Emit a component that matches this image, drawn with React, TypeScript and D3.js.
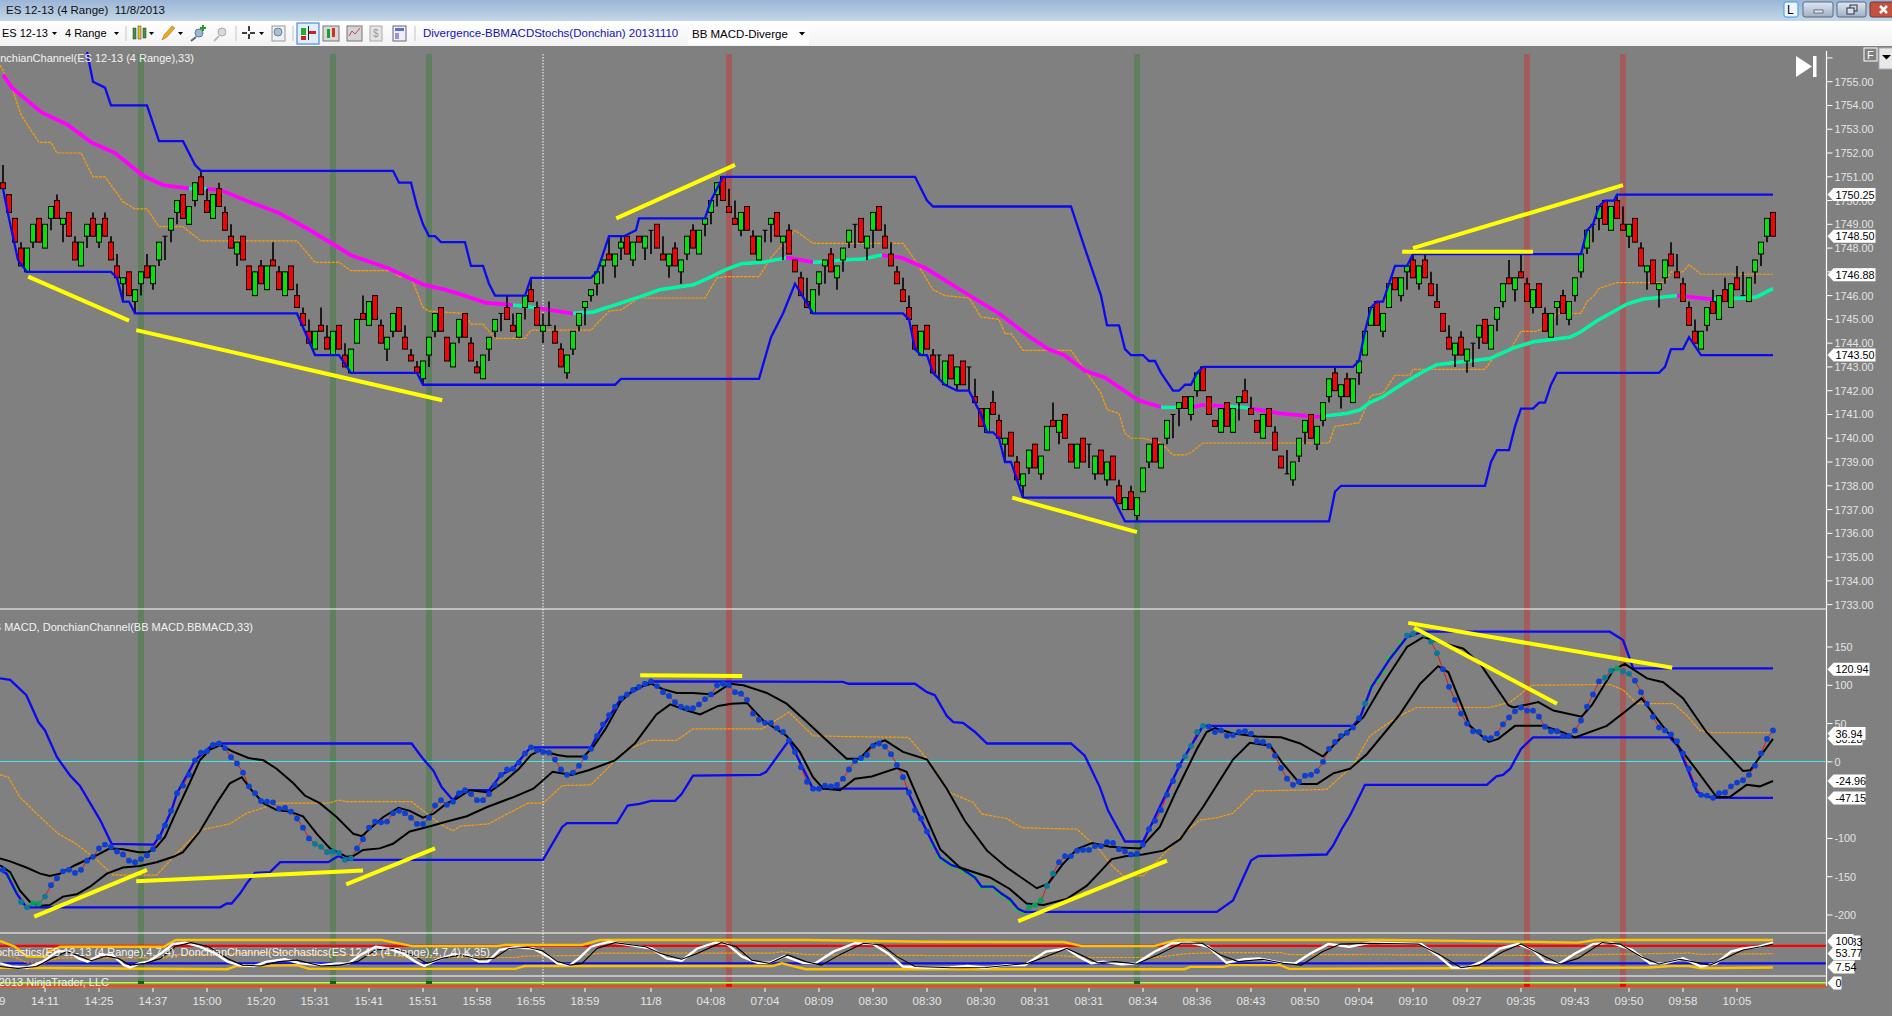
import React from 'react';
import * as d3 from 'd3';

type Pt = [number, number];

// candles: open, high, low, close (ES 12-13, 4 range)
const candles: number[][] = [
  [1750.75,1751.5,1750.5,1750.5],[1750.25,1750.25,1749.5,1749.5],[1749.25,1749.25,1748.25,1748.25],[1748,1748.25,1747.25,1747.25],
  [1747,1748,1747,1748],[1748.25,1749,1748,1749],[1749.25,1749.25,1748.25,1748.25],[1748,1749,1748,1749],
  [1749.25,1749.75,1748.75,1749.75],[1750,1750.25,1749.25,1749.25],[1749,1749.25,1748.25,1749.25],[1749.5,1749.5,1748.5,1748.5],
  [1748.25,1748.5,1747.5,1747.5],[1747.25,1748.25,1747.25,1748.25],[1748.5,1749,1748,1749],[1749.25,1749.5,1748.5,1748.5],
  [1748.25,1749,1748,1749],[1749.25,1749.5,1748.5,1748.5],[1748.25,1748.5,1747.5,1747.5],[1747.25,1747.75,1746.75,1746.75],
  [1746.5,1746.75,1745.75,1746.75],[1747,1747,1746,1746],[1745.75,1746.25,1745.25,1746.25],[1746.5,1747,1746,1747],
  [1747.25,1747.75,1746.75,1746.75],[1746.5,1747.25,1746.25,1747.25],[1747.5,1748.25,1747.25,1748.25],[1748.5,1748.5,1747.5,1748.5],
  [1748.75,1749.25,1748.25,1749.25],[1749.5,1750,1749,1750],[1750.25,1750.25,1749.25,1749.25],[1749,1749.75,1749,1749.75],
  [1750,1750.75,1749.75,1750.75],[1751,1751.25,1750.25,1750.25],[1750,1750.5,1749.5,1749.5],[1749.25,1750.25,1749.25,1750.25],
  [1750.5,1750.75,1749.75,1749.75],[1749.5,1749.75,1748.75,1748.75],[1748.5,1749,1748,1748],[1747.75,1748.25,1747.25,1748.25],
  [1748.5,1748.5,1747.5,1747.5],[1747.25,1747.25,1746.25,1746.25],[1746,1747,1746,1747],[1747.25,1747.5,1746.5,1746.5],
  [1746.25,1747.25,1746.25,1747.25],[1747.5,1748.25,1747.25,1747.25],[1747,1747.25,1746.25,1746.25],[1746,1747,1746,1747],
  [1747.25,1747.25,1746.25,1746.25],[1746,1746.5,1745.5,1745.5],[1745.25,1745.5,1744.75,1744.75],[1744.5,1745,1744,1744],
  [1743.75,1744.5,1743.75,1744.5],[1744.75,1745.5,1744.5,1744.5],[1744.25,1744.75,1743.75,1743.75],[1743.5,1744.5,1743.5,1744.5],
  [1744.75,1744.75,1743.75,1743.75],[1743.5,1744,1743,1743],[1742.75,1743.75,1742.75,1743.75],[1744,1745,1744,1745],
  [1745.25,1746,1745,1745],[1744.75,1745.75,1744.75,1745.75],[1746,1746,1745,1745],[1744.75,1745,1744,1744],
  [1743.75,1744.25,1743.25,1744.25],[1744.5,1745.25,1744.25,1745.25],[1745.5,1745.5,1744.5,1744.5],[1744.25,1744.75,1743.75,1743.75],
  [1743.5,1743.75,1743.25,1743.25],[1743,1743.25,1742.75,1742.75],[1742.5,1743.25,1742.25,1743.25],[1743.5,1744.25,1743,1744.25],
  [1744.5,1745.25,1744.25,1745.25],[1745.5,1745.5,1744.5,1744.5],[1744.25,1744.25,1743.25,1743.25],[1743,1744,1743,1744],
  [1744.25,1745,1744,1745],[1745.25,1745.25,1744.25,1744.25],[1744,1744.25,1743.25,1743.25],[1743,1743.25,1742.75,1742.75],
  [1742.5,1743.5,1742.5,1743.5],[1743.75,1744.25,1743.25,1744.25],[1744.5,1745,1744.25,1745],[1745.25,1745.25,1744.5,1745.25],
  [1745.5,1746,1745,1745],[1744.75,1745.25,1744.5,1744.5],[1744.25,1745.25,1744.25,1745.25],[1745.5,1746,1745,1746],
  [1746.25,1746.75,1745.75,1745.75],[1745.5,1745.75,1744.75,1744.75],[1744.5,1745.25,1744,1744.75],[1744.75,1745.75,1744.75,1744.75],
  [1744.5,1744.75,1744,1744],[1743.75,1744,1743,1743],[1742.75,1743.5,1742.5,1743.5],[1743.75,1744.5,1743.5,1744.5],
  [1744.75,1745.25,1744.5,1745.25],[1745.5,1745.75,1744.75,1745.75],[1746,1746.25,1745.75,1746.25],[1746.5,1747,1746,1747],
  [1747.25,1747.5,1746.5,1747.5],[1747.75,1748.5,1747.5,1747.5],[1747.25,1747.75,1746.75,1747.75],[1748,1748.5,1747.5,1748.25],
  [1748.5,1748.5,1747.75,1747.75],[1747.5,1748.25,1747.25,1748.25],[1748.5,1748.5,1748.25,1748.25],[1748,1748.5,1747.5,1748.5],
  [1748.75,1748.75,1747.75,1748.75],[1749,1749,1748,1748],[1747.75,1748.5,1747.5,1747.5],[1747.25,1747.75,1746.75,1747.75],
  [1748,1748.25,1747.25,1747.25],[1747,1747.5,1746.5,1747.5],[1747.75,1748.5,1747.5,1748.5],[1748.75,1749,1748,1748],
  [1747.75,1748.75,1747.75,1748.75],[1749,1749.25,1748.5,1749.25],[1749.5,1750,1749,1750],[1750.25,1750.75,1749.75,1750.75],
  [1751,1751,1750,1750],[1749.75,1750.5,1749.5,1749.5],[1749.25,1750,1749,1749],[1748.75,1749.5,1748.5,1749.5],
  [1749.75,1749.75,1748.75,1748.75],[1748.5,1748.75,1747.75,1747.75],[1747.5,1748.5,1747.5,1748.5],[1748.75,1748.75,1748.25,1748.75],
  [1749,1749.25,1748.25,1749.25],[1749.5,1749.5,1748.5,1748.5],[1748.25,1748.5,1747.5,1748.5],[1748.75,1749,1747.75,1747.75],
  [1747.5,1747.5,1747,1747],[1746.75,1747,1746,1746],[1745.75,1746.75,1745.5,1745.5],[1745.25,1746.25,1745.25,1746.25],
  [1746.5,1747,1746,1747],[1747.25,1747.5,1746.5,1747.5],[1747.75,1748,1747,1747],[1746.75,1747.25,1746.25,1747.25],
  [1747.5,1748,1747,1748],[1748.25,1748.75,1748,1748.75],[1749,1749,1748,1749],[1749.25,1749.25,1748.25,1748.25],
  [1748,1748.5,1747.5,1748.5],[1748.75,1749.5,1748,1749.5],[1749.75,1749.75,1748.75,1748.75],[1748.5,1749,1748,1748],
  [1747.75,1748.25,1747.25,1747.25],[1747,1747.25,1746.5,1746.5],[1746.25,1746.75,1745.75,1745.75],[1745.5,1746,1745,1745],
  [1744.75,1744.75,1743.75,1743.75],[1743.5,1744.5,1743.5,1744.5],[1744.75,1744.75,1743.75,1743.75],[1743.5,1743.75,1742.75,1742.75],
  [1743.5,1743.5,1742.5,1743.5],[1742.25,1743.25,1742.25,1743.25],[1743.5,1743.5,1742.5,1742.5],[1742.25,1743,1742,1743],
  [1743.25,1743.25,1742.25,1742.25],[1743,1743,1742,1743],[1741.75,1742.5,1741.5,1741.5],[1741.25,1741.25,1740.5,1740.5],
  [1740.25,1741.25,1740.25,1741.25],[1741.5,1742,1741,1741],[1740.75,1741,1740,1740],[1739.75,1740,1739,1740],
  [1740.25,1740.25,1739.25,1739.25],[1739,1739.25,1738.25,1738.25],[1738,1738.5,1737.5,1738.5],[1738.75,1739.5,1738.5,1739.5],
  [1739.75,1739.75,1738.75,1738.75],[1738.5,1739.25,1738.25,1739.25],[1739.5,1740.5,1739.5,1740.5],[1740.75,1741.5,1740.5,1740.5],
  [1740.25,1740.75,1739.75,1740.75],[1741,1741,1740,1740],[1739.75,1739.75,1739,1739],[1738.75,1739.75,1738.75,1739.75],
  [1740,1740,1739,1739],[1739.75,1739.75,1738.75,1739.75],[1738.5,1739.25,1738.25,1739.25],[1739.5,1739.5,1738.5,1738.5],
  [1738.25,1739,1738,1739],[1739.25,1739.25,1738.25,1738.25],[1738,1738.25,1737.25,1737.25],[1737,1737.5,1737,1737.5],
  [1737.75,1738,1737,1737],[1736.75,1737.5,1736.5,1737.5],[1737.75,1738.75,1737.75,1738.75],[1739,1739.75,1738.75,1739.75],
  [1740,1740,1739,1739],[1738.75,1739.75,1738.75,1739.75],[1740,1740.75,1739.75,1740.75],[1741,1741,1740,1741],
  [1741.25,1741.5,1740.5,1741.5],[1741.75,1741.75,1741.25,1741.25],[1741,1741.75,1740.75,1741.75],[1742,1742.75,1741.75,1742.75],
  [1743,1743,1742,1742],[1741.75,1741.75,1741,1741],[1740.75,1740.75,1740.5,1740.5],[1740.25,1741.25,1740.25,1741.25],
  [1741.5,1741.5,1740.5,1740.5],[1740.25,1741.25,1740.25,1741.25],[1741.5,1741.75,1740.75,1741.75],[1742,1742.5,1741.5,1741.5],
  [1741.25,1741.75,1741,1741],[1740.75,1740.75,1740.25,1740.25],[1740,1741,1740,1741],[1741.25,1741.25,1740.5,1740.5],
  [1740.25,1740.5,1739.5,1739.5],[1739.25,1739.25,1738.75,1738.75],[1738.5,1739.5,1738.5,1738.5],[1738.25,1739,1738,1739],
  [1739.25,1740,1739,1740],[1740.25,1740.75,1739.75,1740.75],[1741,1741,1740,1740],[1739.75,1740.5,1739.5,1740.5],
  [1740.75,1741.5,1740.5,1741.5],[1741.75,1742.5,1741.5,1742.5],[1742.75,1743,1742,1742],[1741.75,1742.25,1741.25,1742.25],
  [1742.5,1742.75,1741.75,1741.75],[1741.5,1742.5,1741.5,1742.5],[1742.75,1743.25,1742.25,1743.25],[1743.5,1744.5,1743.5,1744.5],
  [1744.75,1745.5,1744.75,1745.5],[1745.75,1745.75,1744.75,1744.75],[1744.5,1745.25,1744.25,1745.25],[1745.5,1746.5,1745.5,1746.5],
  [1746.75,1746.75,1746.25,1746.25],[1746,1746.75,1745.75,1746.75],[1747,1747.25,1746.25,1747.25],[1747.5,1747.75,1746.75,1746.75],
  [1746.5,1747.25,1746.25,1747.25],[1747.5,1747.75,1746.75,1746.75],[1746.5,1747,1746,1746],[1745.75,1746.5,1745.5,1745.5],
  [1745.25,1745.25,1744.5,1744.5],[1744.25,1744.75,1743.75,1743.75],[1743.5,1744,1743,1744],[1744.25,1744.5,1743.5,1743.5],
  [1743.25,1743.75,1742.75,1743.75],[1744,1744,1743,1744],[1744.25,1744.75,1743.75,1744.75],[1745,1745,1744,1744],
  [1743.75,1744.75,1743.75,1744.75],[1745,1745.5,1744.5,1745.5],[1745.75,1746.5,1745.5,1746.5],[1746.75,1747.5,1746.5,1746.5],
  [1746.25,1746.75,1745.75,1746.75],[1747,1747.75,1746.75,1746.75],[1746.5,1746.75,1745.75,1745.75],[1745.5,1746.25,1745.25,1746.25],
  [1746.5,1746.5,1745.5,1745.5],[1745.25,1745.5,1744.5,1744.5],[1744.25,1745.25,1744.25,1745.25],[1745.5,1745.75,1744.75,1745.75],
  [1746,1746.25,1745.25,1745.25],[1745,1745.75,1744.75,1745.75],[1746,1746.75,1745.75,1746.75],[1747,1747.75,1746.75,1747.75],
  [1748,1748.75,1747.75,1748.75],[1749,1749,1748.25,1749],[1749.25,1749.75,1748.75,1749.75],[1750,1750,1749,1749],
  [1748.75,1749.75,1748.75,1749.75],[1750,1750.25,1749.25,1749.25],[1749,1749.75,1748.75,1748.75],[1748.5,1749,1748,1749],
  [1749.25,1749.25,1748.25,1748.25],[1748,1748.25,1747.25,1747.25],[1747,1747.25,1746.25,1747.25],[1747.5,1747.5,1746.5,1746.5],
  [1746.25,1746.5,1745.5,1746.5],[1746.75,1747.5,1746.5,1747.5],[1747.75,1748.25,1747.25,1747.25],[1747,1747.75,1746.75,1746.75],
  [1746.5,1746.75,1745.75,1745.75],[1745.5,1745.75,1744.75,1744.75],[1744.5,1745,1744,1744],[1743.75,1744.5,1743.75,1744.5],
  [1744.75,1745.5,1744.5,1745.5],[1745.75,1746.25,1745.25,1745.25],[1745,1746,1745,1746],[1746.25,1746.75,1745.75,1745.75],
  [1745.5,1746.5,1745.5,1746.5],[1746.75,1747.25,1746.25,1746.25],[1746,1747,1746,1746],[1745.75,1746.75,1745.75,1746.75],
  [1747,1747.5,1746.5,1747.5],[1747.75,1748.25,1747.25,1748.25],[1748.5,1749.25,1748.25,1749.25],[1749.5,1749.5,1748.5,1748.5],
];

const priceChannelUpper: Pt[] = [[14,1756.25],[15,1755],[17,1754.75],[18,1754],[24,1754],[26,1752.5],[30,1752.5],[32,1751.5],[33,1751.25],[65,1751.25],[66,1750.75],[68,1750.75],[69,1749.75],[70,1749],[71,1748.5],[72,1748.5],[73,1748.25],[77,1748.25],[78,1747.25],[80,1747.25],[81,1746.5],[82,1746],[87,1746],[88,1746.75],[98,1746.75],[99,1747],[101,1748.5],[103.5,1748.5],[105.5,1748.75],[106,1749.25],[117,1749.25],[118,1750],[120,1751],[152,1751],[154,1750],[155,1749.75],[178,1749.75],[180.3,1748],[183,1746],[184,1744.75],[186,1744.75],[187,1743.75],[188,1743.5],[190,1743.5],[191,1743.25],[192,1743.25],[193,1742.75],[195,1742],[196,1742],[197,1742.25],[198,1742.25],[199,1742.75],[200,1743],[225,1743],[226,1743.25],[227,1744.5],[228,1745.5],[229,1745.75],[230,1745.75],[232,1747.25],[234,1747.25],[235,1747.75],[263,1747.75],[264,1748.75],[265,1749],[266,1749.75],[267,1750],[268.5,1750],[269,1750.25],[295,1750.25]];
const priceChannelLower: Pt[] = [[0,1750.5],[1,1749.25],[2.5,1747.5],[4,1747],[18,1747],[19,1746.75],[20,1745.75],[21,1745.75],[22,1745.25],[49,1745.25],[52,1743.5],[56,1743.5],[58,1742.75],[69,1742.75],[70,1742.25],[102,1742.25],[103,1742.5],[126,1742.5],[128,1744.25],[130,1745.25],[132,1746.5],[135,1745.25],[150,1745.25],[151,1745],[152,1743.75],[153,1743.5],[154,1743.5],[155,1742.75],[157,1742.25],[159,1742],[161,1742],[163,1741],[164,1740.25],[165,1740.25],[166,1740],[167,1739],[168,1739],[170,1737.5],[185,1737.5],[187,1736.5],[221,1736.5],[222,1737.75],[223,1738],[247,1738],[248,1739],[249,1739.5],[251,1739.5],[252,1740.5],[253,1741.25],[255,1741.25],[256,1741.5],[257,1741.5],[258,1742.25],[259,1742.75],[276,1742.75],[277,1743],[278,1743.75],[280,1743.75],[281,1744.25],[283,1743.5],[295,1743.5]];
const priceChannelMid: Pt[] = [[-0.5,1755.7],[1.5,1754.75],[3,1753.6],[6,1752.45],[8,1752.45],[9,1752],[13,1752],[15,1751],[17,1751],[20,1749.95],[22,1749.65],[24,1749.65],[26,1748.9],[30,1748.9],[33,1748.3],[49,1748.3],[52,1747.4],[56,1747.4],[58,1747.05],[65,1747.05],[66,1746.8],[68,1746.8],[70,1745.5],[71,1745.35],[77,1745.25],[78,1744.8],[80,1744.8],[82,1744.2],[87,1744.2],[88,1744.55],[98,1744.55],[101,1745.35],[103,1745.4],[106,1745.9],[117,1745.9],[119,1746.75],[120.5,1746.8],[126,1746.8],[128,1747.6],[132,1748.75],[135,1748.2],[150,1748.2],[152,1747.5],[155,1746.25],[157,1746],[161,1745.9],[163,1745.1],[166,1745],[167,1744.4],[168,1744.4],[170,1743.7],[178,1743.7],[183,1741.9],[184,1741.2],[186,1741.05],[187,1740.2],[188,1740],[190,1740],[193,1739.8],[195,1739.3],[197,1739.3],[198,1739.4],[200,1739.8],[221,1739.8],[222,1740.5],[226,1740.65],[228,1741.8],[230,1741.9],[232,1742.65],[234.5,1742.65],[235,1742.9],[247,1742.9],[249,1743.6],[251,1743.65],[253,1744.5],[255.5,1744.5],[257.5,1744.7],[259,1745.25],[263,1745.25],[264,1745.75],[265,1745.95],[266,1746.3],[269,1746.55],[277,1746.55],[278,1747],[280,1747],[281,1747.3],[283,1746.9],[295,1746.9]];

const emaLine: Pt[] = [[0,1755.3],[1.5,1754.75],[6.5,1753.7],[10.7,1753.2],[14.7,1752.45],[18.7,1752],[23.3,1751.05],[26.7,1750.65],[31.2,1750.5],[33.5,1750.5],[36.2,1750.45],[41,1749.95],[45.8,1749.5],[51.2,1748.75],[58,1747.7],[64.2,1747.15],[70.2,1746.45],[73.7,1746.25],[76.3,1746.05],[80.5,1745.7],[85.2,1745.6],[88.7,1745.5],[94.7,1745.25],[98.2,1745.3],[106.2,1745.95],[109.5,1746.25],[115,1746.45],[117.7,1746.75],[120.5,1747.1],[123.2,1747.35],[126.5,1747.4],[130.7,1747.6],[135.3,1747.4],[140.2,1747.5],[143.5,1747.55],[146.3,1747.7],[149.7,1747.6],[153.8,1747.15],[159.2,1746.3],[166,1745.25],[171.5,1744.2],[174.2,1743.75],[176.8,1743.5],[180.3,1742.85],[183.7,1742.55],[189.2,1741.6],[193.2,1741.3],[198,1741.3],[200,1741.4],[206.8,1741.3],[212.8,1741.05],[219,1740.9],[224,1741.05],[226.2,1741.2],[227.8,1741.5],[230,1741.75],[233.3,1742.3],[236.7,1742.8],[239,1743.1],[247.8,1743.35],[251.7,1743.8],[255,1744.05],[261.2,1744.25],[262.8,1744.45],[265.7,1744.95],[270.7,1745.65],[273.3,1745.85],[279,1746],[281.2,1745.95],[284.5,1745.85],[290,1745.9],[292.3,1745.95],[295,1746.3]];
const emaRisingSpans: Pt[] = [[31,34],[85,89],[95,130.5],[135,146.5],[193,198],[204,207.7],[220,279],[285,295.5]];

const macdDots: number[] = [
  -141,-151,-167,-183,-190,-185,-185,-176,-161,-152,-143,-141,-145,-141,-129,-124,-113,-108,-111,-117,
  -121,-129,-131,-127,-122,-114,-98,-83,-64,-41,-31,-17,2,12,14,22,24,18,6,-2,
  -14,-32,-41,-51,-52,-53,-61,-60,-65,-74,-86,-100,-107,-111,-118,-117,-119,-128,-126,-113,
  -101,-86,-78,-79,-78,-67,-64,-67,-73,-81,-81,-73,-57,-50,-56,-52,-41,-37,-42,-50,
  -50,-42,-30,-17,-10,-9,-1,11,19,15,13,12,3,-10,-17,-14,-5,6,17,34,
  49,61,72,83,88,94,98,102,105,99,91,86,78,72,70,70,75,82,88,100,
  102,100,91,89,81,63,55,51,51,44,39,28,13,-7,-26,-35,-35,-31,-32,-30,
  -22,-10,1,5,9,21,24,20,10,-4,-20,-40,-63,-74,-91,-108,-124,-129,-135,-137,
  -142,-146,-151,-163,-163,-163,-171,-176,-183,-192,-196,-190,-187,-181,-162,-146,-131,-123,-123,-116,
  -115,-115,-110,-110,-105,-106,-114,-117,-121,-120,-108,-88,-77,-63,-43,-25,-5,7,21,39,
  47,46,39,41,34,35,39,40,37,27,26,21,8,-8,-22,-30,-26,-18,-17,-12,
  0,17,26,34,38,45,57,76,97,107,118,135,144,155,165,167,170,166,157,142,
  121,98,81,63,50,40,39,31,31,37,49,58,66,71,67,67,59,46,40,40,
  34,34,41,54,72,88,105,110,119,122,118,115,106,91,76,59,45,41,36,27,
  11,-9,-30,-43,-44,-47,-41,-40,-32,-27,-24,-17,-5,11,30,41,
];
const dotGreenBars = [5, 6, 171, 172, 173, 269];
const dotTealBars = [3, 4, 7, 52, 53, 54, 55, 56, 57, 58, 174, 175, 197, 198, 199, 200, 227, 234, 235, 237, 238, 239, 267, 268, 270, 271];
const dotHiddenBars = [1, 2, 155, 156, 157, 158, 159, 160, 161, 162, 163, 164, 165, 166, 167, 168, 169, 170, 228, 229, 230, 231, 232, 233, 236];

const macdBandUpper: Pt[] = [[-0.5,-126],[1.2,-130],[3.9,-138],[6.2,-146],[7.8,-149],[9.5,-146],[12,-135],[15.6,-122],[17.8,-113],[20,-114],[22.6,-118],[24.2,-118],[25.6,-111],[27,-98],[29,-63],[31.2,-26],[32.8,2],[34.5,16],[36.2,22],[38.4,13],[40.9,5],[43.4,2],[45.6,-9],[48.4,-28],[50.3,-44],[52.8,-54],[55.6,-72],[58.4,-94],[59.8,-97],[61.2,-87],[63.4,-72],[65.9,-60],[67.8,-64],[70,-73],[71.7,-68],[74,-54],[75.6,-48],[77.8,-37],[79,-38],[81,-40],[83.5,-26],[86,-9],[88,9],[89.5,15],[92.4,9],[94,7],[96.8,7],[98.4,20],[100.5,44],[102.9,78],[105.3,96],[108.1,102],[110,95],[112.3,90],[115,90],[118.4,88],[121.2,102],[123.4,100],[127.3,90],[130.6,76],[134,52],[137.3,28],[140.6,4],[142.8,4],[145,23],[147,28],[150,13],[154,3],[157.3,-35],[160.3,-77],[164,-116],[167.3,-138],[172.3,-165],[174.2,-159],[176.7,-133],[179,-114],[181.5,-106],[184.5,-111],[186.2,-112],[189.5,-113],[192.8,-85],[195.6,-37],[199,17],[200.6,39],[202,44],[205,37],[209,33],[213,32],[216.2,24],[220,7],[222.8,30],[226.7,58],[230,102],[234,150],[236.7,163],[240.6,154],[243.4,148],[246.2,128],[250.9,74],[251.7,71],[255.9,78],[258.4,67],[263.1,59],[264.8,74],[268.4,120],[270.3,128],[274,109],[276.7,104],[280,83],[283.9,39],[290,-12],[291.2,-11],[295,30]];
const macdBandLower: Pt[] = [[-0.5,-135],[1.2,-144],[2.8,-168],[4.5,-183],[6.2,-188],[7.8,-187],[10,-176],[12.3,-173],[14.5,-163],[17.3,-146],[20,-138],[22.8,-136],[25.6,-131],[28.4,-124],[30,-118],[32.8,-91],[35.6,-54],[37.8,-28],[39.8,-20],[41.2,-35],[43.4,-54],[45.6,-63],[47.8,-65],[50,-71],[52.3,-94],[54.5,-113],[57.3,-124],[58.4,-123],[60,-115],[62.8,-113],[65,-107],[67.8,-91],[71.2,-84],[74,-78],[77.3,-71],[80.7,-59],[85.1,-46],[88.4,-35],[91.6,-13],[94.8,-17],[97.6,-11],[102,2],[105.3,24],[108.9,62],[111.2,75],[114,67],[116.2,62],[119.2,73],[121.4,76],[124,77],[126.7,54],[130.6,34],[132.8,13],[135,-20],[136.7,-35],[139.5,-37],[142,-22],[144.8,-19],[149,-8],[150.6,-13],[153.4,-64],[156.2,-114],[159.5,-138],[164.5,-151],[167.8,-166],[170.6,-185],[173.4,-187],[177.3,-179],[180.6,-162],[182.8,-144],[184.8,-127],[187.3,-123],[190,-121],[193.4,-116],[196.2,-101],[200,-59],[205,3],[207.8,25],[211.2,21],[213.1,0],[216.2,-29],[219,-29],[221.7,-15],[224.5,-9],[227.3,10],[232.8,62],[236.2,102],[239.2,125],[240.9,117],[244.5,47],[247.6,26],[249.2,30],[252,47],[256.7,47],[259.8,39],[262,32],[267.3,47],[270.6,67],[273.1,83],[275.6,57],[277.8,35],[282.3,-11],[285.6,-46],[287.8,-46],[290.6,-30],[292.8,-32],[295,-25]];

const macdChannelUpper: Pt[] = [[-0.5,109],[1.2,107],[3.9,87],[5.9,52],[7,41],[9,6],[11.2,-18],[12.8,-31],[16.2,-76],[18.1,-107],[25.1,-108],[26.2,-96],[28.1,-63],[29,-41],[32,2],[35,23],[36.2,24],[68.1,24],[70,4],[71.7,-11],[73.1,-33],[75,-50],[76,-41],[77,-37],[81,-37],[83,-17],[85,-9],[87,11],[88,19],[98,19],[99,34],[103,83],[106,96],[108,105],[140,104.5],[140.9,102],[152,102],[154,91],[155.3,87],[157.3,60],[158.4,52],[160,51],[162,39],[164,24],[178,24],[180.3,8],[182.8,-33],[184.2,-64],[187,-104],[190,-104],[191.2,-85],[196.2,-3],[200,47],[225,47],[226.2,58],[228.1,98],[231.2,135],[234,163],[236.7,170],[267.8,170],[270,159],[271.7,122],[295,122]];
const macdChannelLower: Pt[] = [[-0.5,-141],[0.6,-146],[2.3,-172],[3.9,-190],[36.2,-190],[37.3,-185],[38.1,-185],[39.5,-172],[40.6,-159],[42,-145],[44.5,-144],[46.2,-131],[54.2,-131],[55.9,-123],[57.3,-128],[90,-128],[93.2,-85],[94,-80],[102.3,-80],[104.1,-57],[106.1,-55],[108,-51],[112,-51],[113.1,-42],[115,-18],[126.2,-17],[127.2,-13],[131,28],[132,13],[135,-35],[150.6,-35],[152.3,-64],[155,-107],[156.2,-125],[158.1,-135],[159.5,-138],[162,-151],[163.1,-163],[165,-163],[166.4,-172],[167.8,-179],[169.2,-192],[170.3,-196],[202.3,-196],[205,-181],[208,-129],[209.2,-123],[220.6,-121],[221.7,-109],[223.1,-88],[224.5,-70],[227,-30],[247.3,-30],[248.9,-19],[250,-17],[251.2,-9],[253,17],[255,32],[277.8,32],[279.2,20],[282.3,-39],[283.1,-43],[285,-47],[295,-47]];
const macdChannelMid: Pt[] = [[-0.5,-17],[0.9,-20],[2.8,-46],[6.2,-72],[9.2,-94],[12,-106],[15.6,-128],[18.4,-148],[25.6,-148],[28.4,-124],[32.8,-89],[37.8,-81],[40.6,-67],[43.4,-60],[45.6,-54],[54.2,-54],[55.9,-50],[57.3,-52],[68.1,-52],[72.8,-81],[75,-90],[76.2,-84],[81,-81],[83.5,-70],[87.5,-54],[90,-54],[93.2,-31],[98,-30],[103.7,15],[107.7,28],[112.2,28],[115,43],[126.5,43],[131,65],[135,34],[140.6,33],[150.9,32],[154,4],[157.8,-40],[161.7,-53],[163.1,-68],[167.3,-74],[169.8,-86],[179,-88],[182.8,-115],[184.5,-133],[186.7,-149],[190,-149],[194,-116],[196.7,-94],[199.5,-76],[202.3,-73],[205,-67],[208.7,-38],[220.6,-36],[225,-5],[227.8,34],[232.3,58],[235.6,71],[247.8,71],[251.2,78],[254.8,100],[267.8,101],[270,94],[272.3,76],[278.4,76],[280.6,61],[282.8,41],[285,38],[295,38]];

const stochK: Pt[] = [[-0.5,20],[1.5,9],[4,5],[6.6,26],[9.1,62],[11.1,60],[12.6,37],[14.1,26],[16.2,49],[18.2,49],[20.2,14],[21.2,6],[22.7,20],[24.2,26],[26.3,54],[28.3,86],[30.3,91],[32.8,77],[35.4,54],[37.4,26],[39.4,14],[41.9,11],[44,26],[47,34],[49.5,20],[53,14],[55.6,20],[57.6,20],[59.6,49],[62.1,77],[64.1,71],[66.7,54],[68.7,26],[70.2,11],[72.2,31],[74.8,49],[77.3,49],[79.3,26],[80.8,26],[82.8,66],[85.4,75],[88.4,71],[90.9,43],[92.4,20],[94.5,14],[96,37],[98,77],[101,94],[105.6,79],[108.1,71],[110.6,37],[113.1,29],[115.7,71],[118.7,91],[120.7,86],[123.2,43],[125.8,22],[127.8,22],[130.3,45],[133.3,22],[135.4,20],[138.4,60],[142,89],[145,86],[147.5,54],[150,9],[154,5],[157.8,6],[160.8,11],[163.8,5],[167.3,14],[170.3,14],[173.8,60],[177.3,71],[179.3,43],[181.4,20],[183.4,26],[186.4,17],[188.9,20],[191.9,60],[194.9,89],[197.9,91],[200.9,77],[203.9,22],[206.9,34],[209.4,37],[212.9,22],[215.4,20],[217.9,54],[220.9,86],[224.4,77],[227.9,91],[231.9,89],[236.4,86],[239,49],[241.5,6],[244,5],[246.5,26],[249.5,71],[252.5,86],[255,66],[257,26],[259.5,20],[262,54],[265,86],[268,91],[271.5,66],[274.5,20],[277,20],[280,37],[283,9],[285.5,20],[288,60],[290,71],[292.6,77],[295,91]];
const stochD: Pt[] = [[-0.5,9],[2.5,3],[5.6,9],[8.1,37],[10.6,60],[13.1,43],[14.7,29],[17.2,45],[19.2,37],[21.2,14],[23.7,20],[26.3,37],[28.8,79],[31.3,91],[34.3,77],[37.4,37],[39.9,14],[42.9,11],[46,26],[49,31],[53,11],[56.1,14],[59.1,26],[62.1,66],[65.2,71],[68.2,49],[70.7,20],[73.2,37],[76.3,49],[79.3,34],[81.8,37],[84.3,71],[87.4,75],[89.9,63],[92.4,26],[94.5,14],[96.5,20],[99,71],[102,91],[107.1,77],[109.6,54],[113.1,34],[115.7,54],[119.7,91],[122.2,77],[124.8,31],[127.8,20],[130.8,49],[133.8,26],[136.4,14],[139.4,49],[143.4,89],[146.5,83],[149,43],[152,9],[157.9,5],[163.8,6],[170.8,20],[173.8,43],[177.3,71],[180.3,43],[182.4,22],[185.4,26],[188.9,18],[192.4,49],[196.4,89],[199.9,89],[202.9,49],[205.9,26],[209.9,34],[213.4,20],[216.4,14],[219.9,60],[222.9,86],[227.9,89],[235.9,86],[239.5,49],[243,5],[246,14],[250,60],[253,86],[256.5,49],[259.5,18],[262.5,37],[266.5,91],[269.5,86],[273,43],[276,18],[279.5,34],[284.5,14],[287,37],[290,66],[293,77],[295,86]];
const stochChannelUpper: Pt[] = [[-0.5,97],[2,77],[4,43],[7,43],[7.6,60],[9.6,77],[26.8,77],[28.8,100],[63.1,100],[68.2,79],[82.3,79],[83.8,83],[96.5,83],[99.5,100],[133.8,100],[154,94],[176.8,93],[179.8,79],[191.9,79],[193.9,91],[195.9,100],[229.9,100],[243,97],[262.5,91],[265.5,100],[295,100]];
const stochChannelLower: Pt[] = [[-0.5,5],[37.4,0],[38.9,11],[49,14],[51,1],[85.4,1],[86.9,11],[128.3,11],[129.8,20],[133.8,0],[157.9,0],[196.9,0],[197.9,8],[203.4,8],[204.4,14],[212.9,14],[214.4,1],[274.5,6],[278,11],[281,11],[283,3],[295,6]];
const stochChannelMid: Pt[] = [[-0.5,49],[2,41],[4,22],[7,22],[7.6,30],[9.6,39],[26.8,39],[28.8,50],[37.4,50],[38.9,55],[49,57],[51,50],[63.1,50],[68.2,40],[85.4,40],[86.9,45],[96.5,47],[99.5,55],[128.3,55],[129.8,60],[133.8,50],[154,47],[176.8,46],[179.8,40],[191.9,40],[195.9,50],[197.9,54],[204.4,57],[212.9,57],[214.4,50],[243,49],[262.5,46],[265.5,50],[274.5,53],[281,55],[283,51],[295,53]];

// hand drawn divergence lines
const priceTrendLines: Pt[][] = [
  [[4.2,1746.8],[21,1744.95]],[[22.2,1744.55],[73.2,1741.6]],[[102.2,1749.25],[122,1751.5]],
  [[168.2,1737.5],[189,1736.05]],[[233.2,1747.85],[255,1747.85]],[[235,1748],[270,1750.65]],
];
const macdTrendLines: Pt[][] = [
  [[5.2,-202],[24,-141]],[[22.2,-156],[60,-142]],[[57.2,-160],[72,-113]],[[106.2,113],[123.2,112]],
  [[169.2,-208],[194,-129]],[[234.2,181.5],[278.2,123]],[[235.2,175],[259,76]],
];

const greenMarkerBars = [23, 55, 71, 189];
const redMarkerBars = [121, 254, 270];
const crosshairBar = 90;

const timeTicks: [number, string][] = [[-2,'14:09'],[7,'14:11'],[16,'14:25'],[25,'14:37'],[34,'15:00'],[43,'15:20'],[52,'15:31'],[61,'15:41'],[70,'15:51'],[79,'15:58'],[88,'16:55'],[97,'18:59'],[108,'11/8'],[118,'04:08'],[127,'07:04'],[136,'08:09'],[145,'08:30'],[154,'08:30'],[163,'08:30'],[172,'08:31'],[181,'08:31'],[190,'08:34'],[199,'08:36'],[208,'08:43'],[217,'08:50'],[226,'09:04'],[235,'09:10'],[244,'09:27'],[253,'09:35'],[262,'09:43'],[271,'09:50'],[280,'09:58'],[289,'10:05']];
const priceTicks = d3.range(1733, 1757);
const macdTicks = [150, 100, 50, 0, -100, -150, -200];
const priceMarkers = [1750.25, 1748.5, 1746.88, 1743.5];
const macdMarkers = [120.94, 30.28, 36.94, -24.96, -47.15];
const stochMarkers: [number, string][] = [[93, '93.33'], [98, '100'], [53.77, '53.77'], [7.54, '7.54']];

const xBar = d3.scaleLinear().domain([0, 295]).range([3, 1773]);
const yPrice = d3.scaleLinear().domain([1755, 1742]).range([81.7, 390.7]);
const yMacd = d3.scaleLinear().domain([150, -200]).range([647, 915]);
const yStoch = d3.scaleLinear().domain([100, 0]).range([940, 969.2]);

const lineOf = (y: d3.ScaleLinear<number, number>) => d3.line<Pt>().x(d => xBar(d[0])).y(d => y(d[1]));
const priceLine = lineOf(yPrice);
const macdLine = lineOf(yMacd);
const stochLine = lineOf(yStoch);
const dotPoints: Pt[] = macdDots.map((v, i) => [i, v]);

const AXIS_X = 1826.5;
const FONT = '"Liberation Sans", Arial, sans-serif';

function Marker({ y, text, width = 49 }: { y: number; text: string; width?: number }) {
    return (
        <g>
            <path d={`M${AXIS_X + 1},${y} L${AXIS_X + 7},${y - 6.5} H${AXIS_X + width} V${y + 6.5} H${AXIS_X + 7} Z`} fill="#fff" />
            <text x={AXIS_X + 9} y={y + 4} fontSize={10.8} fill="#000">{text}</text>
        </g>
    );
}

function Toolbar() {
    return (
        <g>
            <rect x={0} y={0} width={1892} height={21} fill="url(#titleFill)" />
            <rect x={0} y={21} width={1892} height={25} fill="url(#barFill)" />
            <text x={6} y={14} fontSize={11.5} fill="#111" xmlSpace="preserve">ES 12-13 (4 Range)  11/8/2013</text>
            <text x={2} y={37} fontSize={11} fill="#000">ES 12-13</text>
            <path d="M52,32 h5 l-2.5,3 z" fill="#000" />
            <text x={65} y={37} fontSize={11} fill="#000">4 Range</text>
            <path d="M114,32 h5 l-2.5,3 z" fill="#000" />
            {[126, 236, 293, 415].map(x => <line key={x} x1={x} x2={x} y1={26} y2={41} stroke="#c4c4c4" />)}
            {/* toolbar glyphs */}
            <g>
                <rect x={133} y={28} width={3} height={11} fill="#3a9a3a" stroke="#333" strokeWidth={0.5} />
                <rect x={138} y={26} width={3} height={13} fill="#e8c020" stroke="#333" strokeWidth={0.5} />
                <rect x={143} y={28} width={3} height={10} fill="#3a9a3a" stroke="#333" strokeWidth={0.5} />
                <path d="M149,32 h5 l-2.5,3 z" fill="#000" />
                <path d="M162,40 l2,-5 l8,-9 l3,2 l-8,9 z" fill="#f0a820" stroke="#8a6a10" strokeWidth={0.5} />
                <path d="M178,32 h5 l-2.5,3 z" fill="#000" />
                <circle cx={199} cy={33} r={4} fill="#9ab8d8" stroke="#607890" />
                <line x1={196} y1={37} x2={191} y2={41} stroke="#666" strokeWidth={2} />
                <path d="M203,25 v6 M200,28 h6" stroke="#20a020" strokeWidth={2} />
                <circle cx={222} cy={32} r={4} fill="#d8d8d8" stroke="#aaa" />
                <line x1={219} y1={36} x2={214} y2={41} stroke="#bbb" strokeWidth={2} />
                <path d="M249,26 v14 M242,33 h14" stroke="#000" strokeWidth={1.5} strokeDasharray="5 3" />
                <path d="M259,32 h5 l-2.5,3 z" fill="#000" />
                <rect x={272} y={26} width={13} height={15} fill="#eef2f6" stroke="#999" />
                <circle cx={278} cy={32} r={4} fill="#a8c0d8" stroke="#708090" />
                <rect x={297} y={23} width={22} height={21} fill="#dfeefa" stroke="#2a7ad0" />
                <rect x={301} y={28} width={5} height={7} fill="#20b020" /><rect x={301} y={36} width={5} height={4} fill="#d02020" />
                <rect x={308} y={31} width={8} height={3} fill="#d02020" /><rect x={308} y={26} width={1} height={14} fill="#222" />
                <rect x={323} y={26} width={16} height={15} fill="#d8d8d8" stroke="#777" />
                <rect x={327} y={29} width={3} height={9} fill="#20a020" /><rect x={332} y={28} width={3} height={9} fill="#d03020" />
                <rect x={347} y={26} width={15} height={15} fill="#d4d4d4" stroke="#777" />
                <path d="M349,36 l3,-5 l3,3 l5,-6" stroke="#d04040" fill="none" />
                <rect x={370} y={26} width={12} height={15} fill="#e4e4e4" stroke="#aaa" />
                <text x={373} y={37} fontSize={10} fill="#999">$</text>
                <rect x={393} y={26} width={13} height={15} fill="#eceef8" stroke="#667" />
                <rect x={395} y={28} width={9} height={3} fill="#5a70d0" /><rect x={395} y={33} width={4} height={6} fill="#a090e0" />
            </g>
            <text x={423} y={37} fontSize={11.5} fill="#1414b4">Divergence-BBMACDStochs(Donchian) 20131110</text>
            <rect x={688} y={23} width={121} height={22} fill="#fdfdfd" />
            <text x={692} y={38} fontSize={11.5} fill="#000">BB MACD-Diverge</text>
            <path d="M799,32 h6 l-3,3.5 z" fill="#000" />
            {/* window buttons */}
            <rect x={1784} y={2} width={14} height={15} rx={2} fill="#eef4fa" stroke="#30a0e0" />
            <text x={1787} y={14} fontSize={12} fill="#000">L</text>
            <rect x={1803} y={2} width={30} height={15} rx={2} fill="url(#btnFill)" stroke="#5a6a7a" />
            <rect x={1814} y={10} width={9} height={3} fill="#e8e8e8" stroke="#445" strokeWidth={0.7} />
            <rect x={1837} y={2} width={29} height={15} rx={2} fill="url(#btnFill)" stroke="#5a6a7a" />
            <rect x={1850} y={5} width={7} height={6} fill="none" stroke="#334" /><rect x={1847} y={8} width={7} height={6} fill="#dde" stroke="#334" />
            <rect x={1870} y={2} width={24} height={15} rx={2} fill="#c45040" stroke="#6a3a30" />
            <path d="M1880,6 l7,7 M1887,6 l-7,7" stroke="#fff" strokeWidth={2.5} />
        </g>
    );
}

export default function App() {
    document.body.style.margin = '0';
    const tealDots = new Set(dotTealBars);
    const greenDots = new Set(dotGreenBars);
    const hiddenDots = new Set(dotHiddenBars);
    const dotColor = (i: number) => greenDots.has(i) ? '#08a060' : tealDots.has(i) ? '#0a7a9c' : '#0a40d4';

    return (
        <div style={{ position: 'absolute', left: 0, top: 0, width: 1892, height: 1016, overflow: 'hidden', background: '#808080' }}>
            <svg width={1892} height={1016} style={{ display: 'block', fontFamily: FONT }}>
                <defs>
                    <linearGradient id="titleFill" x1="0" y1="0" x2="0" y2="1">
                        <stop offset="0" stopColor="#9ab6d6" /><stop offset="1" stopColor="#c4d6e8" />
                    </linearGradient>
                    <linearGradient id="barFill" x1="0" y1="0" x2="0" y2="1">
                        <stop offset="0" stopColor="#ffffff" /><stop offset="1" stopColor="#f2f2f2" />
                    </linearGradient>
                    <linearGradient id="btnFill" x1="0" y1="0" x2="0" y2="1">
                        <stop offset="0" stopColor="#dfe8f2" /><stop offset="1" stopColor="#9fb0c4" />
                    </linearGradient>
                    <clipPath id="pricePanel"><rect x={0} y={46} width={AXIS_X} height={563} /></clipPath>
                    <clipPath id="risingEma">
                        {emaRisingSpans.map(s => <rect key={s[0]} x={xBar(s[0])} y={46} width={xBar(s[1]) - xBar(s[0])} height={563} />)}
                    </clipPath>
                </defs>

                <rect x={0} y={46} width={1892} height={970} fill="#808080" />

                {/* alert columns */}
                {greenMarkerBars.map(b => <rect key={b} x={xBar(b) - 3} y={54} width={6} height={929} fill="#5f7f5f" />)}
                {redMarkerBars.map(b => <rect key={b} x={xBar(b) - 3} y={54} width={6} height={931} fill="#a25c5c" />)}

                {/* panel rules */}
                {[609, 933, 976].map(y => <line key={y} x1={0} x2={AXIS_X} y1={y} y2={y} stroke="#fff" strokeWidth={1.2} />)}
                <line x1={0} x2={AXIS_X} y1={982.7} y2={982.7} stroke="#adff2f" strokeWidth={1.6} />
                <line x1={0} x2={AXIS_X} y1={986.2} y2={986.2} stroke="#ff4500" strokeWidth={2.2} />
                {greenMarkerBars.map(b => <rect key={b} x={xBar(b) - 3} y={981} width={6} height={3} fill="#0a6a0a" />)}
                {redMarkerBars.map(b => <rect key={b} x={xBar(b) - 3} y={984} width={6} height={3} fill="#ff0000" />)}
                <line x1={xBar(crosshairBar)} x2={xBar(crosshairBar)} y1={54} y2={985} stroke="#fff" strokeWidth={1} strokeDasharray="1.5 1.5" />

                {/* price panel */}
                <g clipPath="url(#pricePanel)" fill="none">
                    <path d={priceLine(priceChannelMid)!} stroke="#ff9c00" strokeWidth={1.2} strokeDasharray="3 1" />
                    <path d={priceLine(emaLine)!} stroke="#ff00ff" strokeWidth={3.8} />
                    <path d={priceLine(emaLine)!} stroke="#00fa9a" strokeWidth={3.8} clipPath="url(#risingEma)" />
                    {candles.map((c, i) => (
                        <g key={i}>
                            <line x1={xBar(i)} x2={xBar(i)} y1={yPrice(c[1])} y2={yPrice(c[2])} stroke="#000" strokeWidth={1.6} />
                            {c[0] === c[3]
                                ? <line x1={xBar(i) - 2.5} x2={xBar(i) + 2.5} y1={yPrice(c[0])} y2={yPrice(c[0])} stroke="#000" strokeWidth={1} />
                                : <rect x={xBar(i) - 2.5} width={5}
                                    y={yPrice(Math.max(c[0], c[3]))}
                                    height={Math.abs(yPrice(c[0]) - yPrice(c[3]))}
                                    fill={c[3] > c[0] ? '#00e600' : '#ff0000'} stroke="#000" strokeWidth={1} />}
                        </g>
                    ))}
                    <path d={priceLine(priceChannelUpper)!} stroke="#0a0af0" strokeWidth={2.3} />
                    <path d={priceLine(priceChannelLower)!} stroke="#0a0af0" strokeWidth={2.3} />
                    {priceTrendLines.map((l, i) => <path key={i} d={priceLine(l)!} stroke="#ffff00" strokeWidth={4} />)}
                </g>

                {/* macd panel */}
                <g fill="none">
                    <line x1={0} x2={AXIS_X} y1={761.5} y2={761.5} stroke="#30f0f0" strokeWidth={1} />
                    <path d={macdLine(macdChannelMid)!} stroke="#ff9c00" strokeWidth={1.2} strokeDasharray="3 1" />
                    <path d={macdLine(dotPoints)!} stroke="#e81414" strokeWidth={1} />
                    {dotPoints.filter(d => hiddenDots.has(d[0])).map(d => (
                        <circle key={d[0]} cx={xBar(d[0])} cy={yMacd(d[1])} r={2.4} fill="#00e000" />
                    ))}
                    <path d={macdLine(macdChannelUpper)!} stroke="#0a0af0" strokeWidth={2.3} />
                    <path d={macdLine(macdChannelLower)!} stroke="#0a0af0" strokeWidth={2.3} />
                    <path d={macdLine(macdBandUpper)!} stroke="#000" strokeWidth={2} />
                    <path d={macdLine(macdBandLower)!} stroke="#000" strokeWidth={2} />
                    {dotPoints.filter(d => !hiddenDots.has(d[0])).map(d => (
                        <circle key={d[0]} cx={xBar(d[0])} cy={yMacd(d[1])} r={2.9} fill={dotColor(d[0])} />
                    ))}
                    {macdTrendLines.map((l, i) => <path key={i} d={macdLine(l)!} stroke="#ffff00" strokeWidth={4} />)}
                </g>

                {/* stochastics panel */}
                <g fill="none">
                    <line x1={0} x2={AXIS_X} y1={yStoch(80)} y2={yStoch(80)} stroke="#ff0000" strokeWidth={2.4} />
                    <line x1={0} x2={AXIS_X} y1={yStoch(20)} y2={yStoch(20)} stroke="#0a0af0" strokeWidth={2.4} />
                    <path d={stochLine(stochChannelUpper)!} stroke="#ffc000" strokeWidth={2.4} />
                    <path d={stochLine(stochChannelLower)!} stroke="#ffc000" strokeWidth={2.4} />
                    <path d={stochLine(stochChannelMid)!} stroke="#ff9c00" strokeWidth={1.2} strokeDasharray="3 1" />
                    <path d={stochLine(stochK)!} stroke="#ffffff" strokeWidth={2.4} />
                    <path d={stochLine(stochD)!} stroke="#000" strokeWidth={1.1} />
                </g>

                {/* indicator captions, cut off at the left edge */}
                <g fontSize={11} fill="#f2f2f2" textAnchor="end">
                    <text x={194} y={62}>DonchianChannel(ES 12-13 (4 Range),33)</text>
                    <text x={253} y={631}>BB MACD, DonchianChannel(BB MACD.BBMACD,33)</text>
                    <text x={490} y={956}>Stochastics(ES 12-13 (4 Range),4,7,4), DonchianChannel(Stochastics(ES 12-13 (4 Range),4,7,4),K,35)</text>
                    <text x={109} y={986}>© 2013 NinjaTrader, LLC</text>
                </g>

                {/* right axis */}
                <line x1={AXIS_X} x2={AXIS_X} y1={51} y2={986} stroke="#fff" strokeWidth={1.2} />
                <g fontSize={10.8} fill="#e4e4e4">
                    {priceTicks.map(t => (
                        <g key={t}>
                            <line x1={AXIS_X} x2={AXIS_X + 6} y1={yPrice(t)} y2={yPrice(t)} stroke="#fff" />
                            {t < 1756 && <text x={AXIS_X + 8} y={yPrice(t) + 4}>{t.toFixed(2)}</text>}
                        </g>
                    ))}
                    {macdTicks.map(t => (
                        <g key={t}>
                            <line x1={AXIS_X} x2={AXIS_X + 6} y1={yMacd(t)} y2={yMacd(t)} stroke="#fff" />
                            <text x={AXIS_X + 8} y={yMacd(t) + 4}>{t}</text>
                        </g>
                    ))}
                </g>
                {priceMarkers.map(p => <Marker key={p} y={yPrice(p)} text={p.toFixed(2)} />)}
                {macdMarkers.map(m => <Marker key={m} y={yMacd(m)} text={m.toFixed(2)} width={m === 120.94 ? 43 : m === 30.28 ? 36 : 39} />)}
                {stochMarkers.map(([v, s]) => <Marker key={s} y={yStoch(v)} text={s} width={s === '93.33' ? 34 : s === '100' ? 27 : s === '53.77' ? 34 : 28} />)}
                <Marker y={983} text="0" width={15} />

                {/* time axis */}
                <g fontSize={11.5} fill="#e4e4e4" textAnchor="middle">
                    {timeTicks.map(([b, s], i) => (
                        <g key={i}>
                            <line x1={xBar(b)} x2={xBar(b)} y1={988} y2={992} stroke="#fff" />
                            <text x={xBar(b)} y={1005}>{s}</text>
                        </g>
                    ))}
                </g>

                {/* go to last bar + fixed scale buttons */}
                <path d="M1796,56 L1812,66.5 L1796,77 Z" fill="#fff" />
                <rect x={1813} y={56} width={3.5} height={21} fill="#fff" />
                <rect x={1864} y={48} width={13} height={13} fill="#808080" stroke="#fff" />
                <text x={1867} y={59} fontSize={11} fill="#fff">F</text>
                <rect x={1879} y={48} width={14} height={21} fill="#e8e8e8" stroke="#aab" />
                <path d="M1882,55 h9 l-4.5,4.5 z" fill="#000" />

                <Toolbar />
            </svg>
        </div>
    );
}
